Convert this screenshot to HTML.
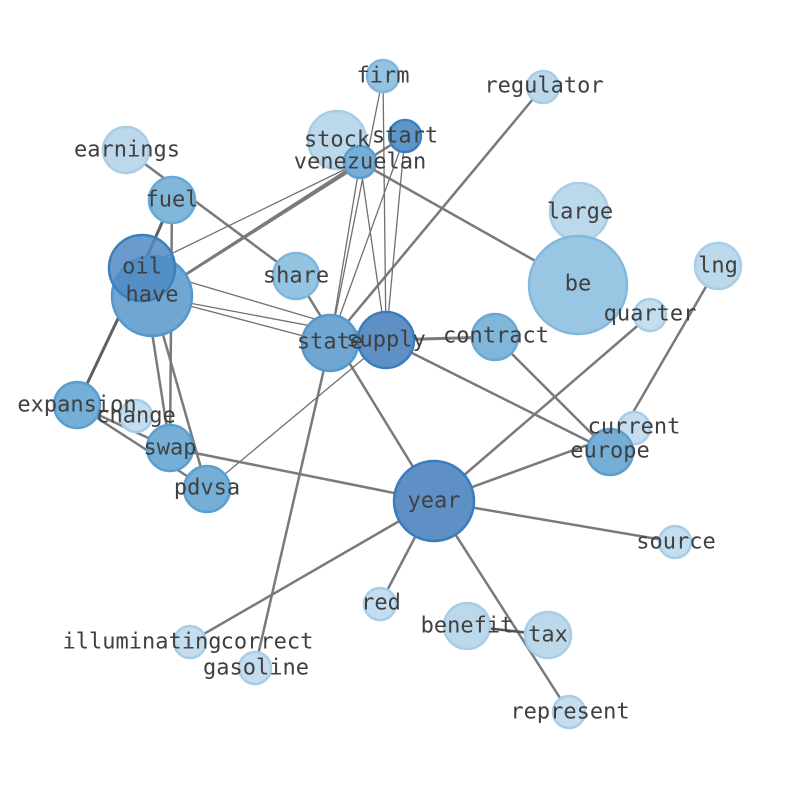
<!DOCTYPE html>
<html><head><meta charset="utf-8"><style>
html,body{margin:0;padding:0;background:#fff;}
svg text{font-family:"DejaVu Sans Mono","Liberation Mono",monospace;font-size:22px;fill:#404040;text-anchor:middle;dominant-baseline:central;}
</style></head><body>
<svg width="794" height="790" xmlns="http://www.w3.org/2000/svg">
<g stroke="#7a7a7a" stroke-width="2.5" fill="none">
<line x1="126" y1="150" x2="296" y2="276"/>
<line x1="296" y1="276" x2="434" y2="501"/>
<line x1="172" y1="200" x2="142" y2="268" stroke="#606060" stroke-width="3"/>
<line x1="172" y1="200" x2="170" y2="448"/>
<line x1="142" y1="268" x2="77" y2="405" stroke="#606060" stroke-width="3"/>
<line x1="142" y1="268" x2="170" y2="448"/>
<line x1="152" y1="296" x2="207" y2="489"/>
<line x1="360" y1="162" x2="152" y2="296"/>
<line x1="405" y1="136" x2="152" y2="296"/>
<line x1="360" y1="162" x2="578" y2="285"/>
<line x1="543" y1="87" x2="330" y2="343"/>
<line x1="386" y1="340" x2="495" y2="337" stroke-width="3"/>
<line x1="386" y1="340" x2="610" y2="452"/>
<line x1="330" y1="343" x2="255" y2="668"/>
<line x1="77" y1="405" x2="207" y2="489"/>
<line x1="77" y1="405" x2="170" y2="448"/>
<line x1="170" y1="448" x2="434" y2="501"/>
<line x1="579" y1="212" x2="578" y2="285"/>
<line x1="650" y1="315" x2="434" y2="501"/>
<line x1="718" y1="266" x2="610" y2="452"/>
<line x1="495" y1="337" x2="610" y2="452"/>
<line x1="634" y1="428" x2="434" y2="501"/>
<line x1="434" y1="501" x2="675" y2="542"/>
<line x1="434" y1="501" x2="380" y2="604"/>
<line x1="434" y1="501" x2="190" y2="642"/>
<line x1="434" y1="501" x2="569" y2="712"/>
<line x1="467" y1="626" x2="548" y2="635" stroke="#555"/>
</g>
<g stroke="#707070" stroke-width="1.3" fill="none">
<line x1="360" y1="162" x2="142" y2="268"/>
<line x1="152" y1="296" x2="386" y2="340"/>
<line x1="152" y1="296" x2="330" y2="343"/>
<line x1="142" y1="268" x2="386" y2="340"/>
<line x1="360" y1="162" x2="330" y2="343"/>
<line x1="360" y1="162" x2="386" y2="340"/>
<line x1="383" y1="76" x2="386" y2="340"/>
<line x1="383" y1="76" x2="330" y2="343"/>
<line x1="405" y1="136" x2="330" y2="343"/>
<line x1="405" y1="136" x2="386" y2="340"/>
<line x1="386" y1="340" x2="207" y2="489"/>
</g>
<g stroke-width="2.5">
<circle cx="126" cy="150" r="23" fill="#bcd9ec" stroke="#a8cde6"/>
<circle cx="337" cy="140" r="29" fill="#bcd9ec" stroke="#a8cde6"/>
<circle cx="383" cy="76" r="16" fill="#94c4e2" stroke="#7fb5dc"/>
<circle cx="543" cy="87" r="16" fill="#bcd9ec" stroke="#a8cde6"/>
<circle cx="405" cy="136" r="16" fill="#5e96c8" stroke="#3a80bf"/>
<circle cx="360" cy="162" r="16" fill="#75aed6" stroke="#5b9fcf"/>
<circle cx="172" cy="200" r="23" fill="#80b6da" stroke="#6aa8d4"/>
<circle cx="579" cy="212" r="29" fill="#bcd9ec" stroke="#a8cde6"/>
<circle cx="152" cy="296" r="40" fill="#6fa6d2" stroke="#5598cc"/>
<circle cx="142" cy="268" r="33" fill="#4f8bc4" fill-opacity="0.85" stroke="#3a80bf"/>
<circle cx="296" cy="276" r="23" fill="#94c4e2" stroke="#7fb5dc"/>
<circle cx="578" cy="285" r="49" fill="#98c6e3" stroke="#84b9de"/>
<circle cx="718" cy="266" r="23" fill="#bcd9ec" stroke="#a8cde6"/>
<circle cx="650" cy="315" r="16" fill="#c4def0" stroke="#a8cde6"/>
<circle cx="495" cy="337" r="23" fill="#80b6da" stroke="#6aa8d4"/>
<circle cx="330" cy="343" r="28" fill="#6fa6d2" stroke="#5598cc"/>
<circle cx="386" cy="340" r="28" fill="#5e90c6" stroke="#3a7cbd"/>
<circle cx="77" cy="405" r="23" fill="#75aed6" stroke="#5b9fcf"/>
<circle cx="136" cy="416" r="16" fill="#c4def0" stroke="#a8cde6"/>
<circle cx="170" cy="448" r="23" fill="#75aed6" stroke="#5b9fcf"/>
<circle cx="207" cy="489" r="23" fill="#75aed6" stroke="#5b9fcf"/>
<circle cx="634" cy="428" r="16" fill="#c4def0" stroke="#a8cde6"/>
<circle cx="610" cy="452" r="23" fill="#75aed6" stroke="#5b9fcf"/>
<circle cx="434" cy="501" r="40" fill="#5e90c6" stroke="#3a7cbd"/>
<circle cx="675" cy="542" r="16" fill="#c4def0" stroke="#a8cde6"/>
<circle cx="380" cy="604" r="16" fill="#c4def0" stroke="#a8cde6"/>
<circle cx="467" cy="626" r="23" fill="#bcd9ec" stroke="#a8cde6"/>
<circle cx="548" cy="635" r="23" fill="#bcd9ec" stroke="#a8cde6"/>
<circle cx="190" cy="642" r="16" fill="#c4def0" stroke="#a8cde6"/>
<circle cx="255" cy="668" r="16" fill="#c4def0" stroke="#a8cde6"/>
<circle cx="569" cy="712" r="16" fill="#c4def0" stroke="#a8cde6"/>
</g>
<g>
<text x="383" y="76">firm</text>
<text x="544" y="86">regulator</text>
<text x="127" y="150">earnings</text>
<text x="337" y="140">stock</text>
<text x="405" y="136">start</text>
<text x="360" y="162">venezuelan</text>
<text x="172" y="200">fuel</text>
<text x="580" y="212">large</text>
<text x="142" y="267">oil</text>
<text x="152" y="295">have</text>
<text x="296" y="276">share</text>
<text x="578" y="284">be</text>
<text x="718" y="266">lng</text>
<text x="650" y="314">quarter</text>
<text x="496" y="336">contract</text>
<text x="330" y="342">state</text>
<text x="386" y="340">supply</text>
<text x="77" y="405">expansion</text>
<text x="136" y="416">change</text>
<text x="170" y="448">swap</text>
<text x="207" y="488">pdvsa</text>
<text x="634" y="427">current</text>
<text x="610" y="451">europe</text>
<text x="434" y="501">year</text>
<text x="676" y="542">source</text>
<text x="381" y="603">red</text>
<text x="467" y="626">benefit</text>
<text x="548" y="635">tax</text>
<text x="142" y="642">illuminating</text>
<text x="267" y="642">correct</text>
<text x="256" y="668">gasoline</text>
<text x="570" y="712">represent</text>
</g>
</svg>
</body></html>
